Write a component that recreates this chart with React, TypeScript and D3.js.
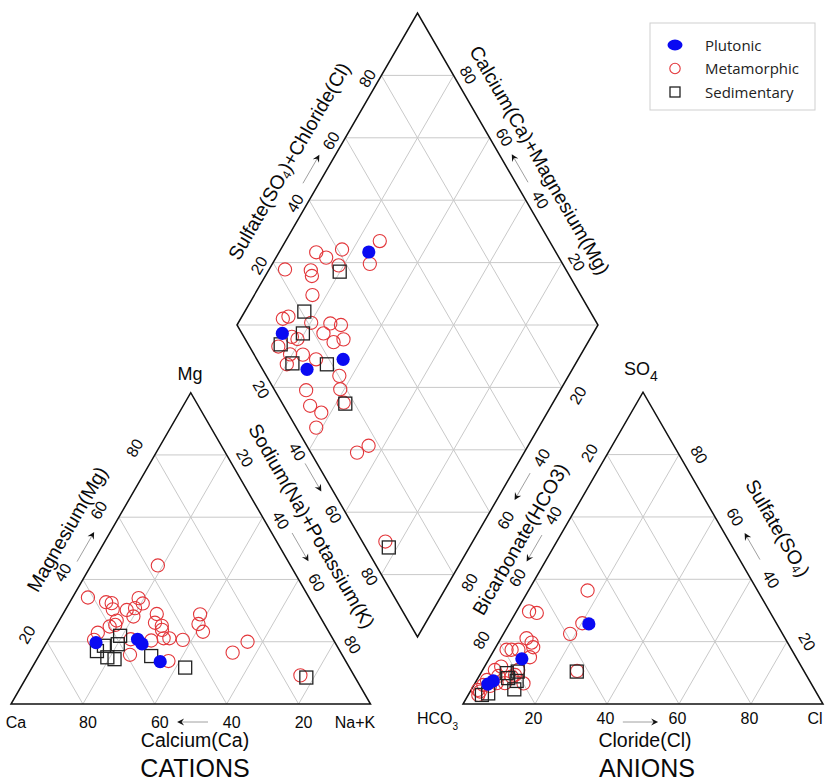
import React from "react";
import * as d3 from "d3";

const TICKS = [20, 40, 60, 80];

// Cation triangle samples: [Ca, Mg, Na+K] (%)
const cationPlutonic = [
  [66.5, 19.7, 13.8], [54.4, 20.8, 24.8], [53.9, 19.3, 26.8], [51.7, 13.6, 34.7],
];
const cationMetamorphic = [
  [36.9, 44.5, 18.6], [61.5, 34.2, 4.3], [57.2, 32.7, 10.1], [55.8, 32.4, 11.8], [56.5, 30.4, 13.1],
  [47.5, 34.0, 18.5], [47.2, 32.3, 20.5], [50.1, 30.8, 19.1], [52.7, 30.2, 17.1], [51.9, 28.1, 20.0],
  [45.0, 28.9, 26.1], [46.9, 26.1, 27.0], [45.5, 25.1, 29.4], [46.1, 23.8, 30.1], [57.2, 26.8, 16.0],
  [58.3, 25.4, 16.3], [60.1, 24.9, 15.0], [64.4, 22.9, 12.7], [33.0, 28.8, 38.2], [35.0, 25.7, 39.3],
  [35.0, 23.2, 41.8], [56.3, 20.8, 22.9], [50.8, 20.4, 28.8], [47.0, 21.1, 31.9], [45.4, 21.1, 33.5],
  [41.9, 20.6, 37.5], [59.0, 15.8, 25.2], [49.3, 13.8, 36.9], [24.2, 20.0, 55.8], [30.1, 16.5, 53.4],
  [14.9, 9.2, 75.9], [66.6, 20.6, 12.8],
];
const cationSedimentary = [
  [58.7, 21.9, 19.4], [60.7, 19.2, 20.1], [64.8, 18.7, 16.5], [67.6, 17.0, 15.4], [65.7, 15.0, 19.3],
  [64.0, 14.4, 21.6], [53.3, 15.4, 31.3], [45.7, 11.7, 42.6], [13.6, 8.5, 77.9],
];

// Anion triangle samples: [HCO3, SO4, Cl] (%)
const anionPlutonic = [
  [52.2, 25.7, 22.1], [76.4, 14.5, 9.1], [87.9, 7.4, 4.7], [89.9, 6.4, 3.7],
];
const anionMetamorphic = [
  [47.2, 36.4, 16.4], [66.8, 29.7, 3.5], [64.9, 29.2, 5.9], [53.9, 25.9, 20.2], [59.0, 22.5, 18.5],
  [71.8, 21.1, 7.1], [71.1, 19.7, 9.2], [71.4, 18.2, 10.4], [79.2, 17.4, 3.4], [77.8, 17.4, 4.8],
  [75.9, 17.4, 6.7], [73.9, 15.0, 11.1], [83.4, 12.0, 4.6], [85.7, 10.9, 3.4], [85.7, 9.0, 5.3],
  [79.2, 10.9, 9.9], [82.1, 8.8, 9.1], [91.3, 6.1, 2.6], [93.3, 4.0, 2.7], [85.0, 6.7, 8.3],
  [87.3, 6.7, 6.0], [94.3, 2.9, 2.8], [63.0, 10.6, 26.4], [79.9, 6.6, 13.5], [80.9, 9.3, 9.8],
  [93.6, 4.5, 1.9], [89.5, 7.7, 2.8], [89.6, 5.8, 4.6],
];
const anionSedimentary = [
  [63.2, 10.4, 26.4], [82.9, 9.9, 7.2], [79.6, 10.4, 10.0], [83.3, 8.3, 8.4], [81.4, 7.4, 11.2],
  [83.4, 4.7, 11.9], [91.3, 3.4, 5.3], [93.3, 2.9, 3.8],
];

// Diamond samples: [Na+K, SO4+Cl] (%)
const diamondPlutonic = [[24.8, 48.2], [13.9, 11.2], [26.5, 12.3], [34.9, 23.9]];
const diamondMetamorphic = [
  [26.1, 53.0], [17.0, 41.2], [10.3, 33.6], [13.9, 35.5], [18.6, 37.7], [27.0, 46.6], [4.4, 22.2],
  [11.7, 29.2], [12.9, 28.6], [16.1, 25.7], [11.7, 13.7], [12.9, 15.6], [20.2, 20.9], [25.6, 26.1],
  [28.8, 28.8], [25.3, 22.6], [29.5, 24.0], [31.8, 27.2], [17.1, 13.3], [19.0, 14.5], [14.9, 8.0],
  [19.4, 10.0], [23.0, 13.5], [20.1, 7.5], [27.4, 16.4], [36.5, 20.2], [38.9, 18.3], [29.6, 8.7],
  [33.2, 7.3], [37.4, 9.3], [38.4, 5.5], [42.0, 17.1], [53.7, 12.8], [55.8, 17.1], [75.8, 6.4],
];
const diamondSedimentary = [
  [19.9, 37.0], [16.5, 20.8], [19.6, 16.9], [15.2, 9.0], [21.5, 9.2], [31.2, 18.6], [42.6, 17.4], [77.7, 6.4],
];

const legendLabels = ["Plutonic", "Metamorphic", "Sedimentary"];

const S60 = Math.sqrt(3) / 2;
const RED = "#e3373b";
const BLUE = "#0a0af2";
const GRID = "#c9c9c9";
const FONT = "Liberation Sans, Arial, sans-serif";

// geometry
const cat = { x0: 11, y0: 704, side: 359.5 };
const an = { x0: 463, y0: 704, side: 360 };
const dia = { cx: 417.5, cy: 325, hw: 180.5, hh: 312 };

const catScale = d3.scaleLinear().domain([0, 100]).range([0, cat.side]);
const anScale = d3.scaleLinear().domain([0, 100]).range([0, an.side]);
const diaX = d3.scaleLinear().domain([0, 200]).range([dia.cx - dia.hw, dia.cx + dia.hw]);
const diaY = d3.scaleLinear().domain([-100, 100]).range([dia.cy - dia.hh, dia.cy + dia.hh]);

type P = [number, number];
const catPt = (mg: number, nak: number): P => [cat.x0 + catScale(nak + mg / 2), cat.y0 - catScale(mg) * S60];
const anPt = (so4: number, cl: number): P => [an.x0 + anScale(cl + so4 / 2), an.y0 - anScale(so4) * S60];
const diaPt = (nak: number, s: number): P => [diaX(nak + s), diaY(nak - s)];

const NUL: P = [-S60, -0.5];
const NUR: P = [S60, -0.5];
const NLL: P = [-S60, 0.5];
const NLR: P = [S60, 0.5];

function Arrow({ p1, p2, n = [0, 0], d = 0 }: { p1: P; p2: P; n?: P; d?: number }) {
  const a: P = [p1[0] + n[0] * d, p1[1] + n[1] * d];
  const b: P = [p2[0] + n[0] * d, p2[1] + n[1] * d];
  const len = Math.hypot(b[0] - a[0], b[1] - a[1]);
  const ux = (b[0] - a[0]) / len, uy = (b[1] - a[1]) / len;
  const px = -uy, py = ux;
  const hl = 7, hw = 3.6;
  const pts = [
    [b[0], b[1]],
    [b[0] - hl * ux + hw * px, b[1] - hl * uy + hw * py],
    [b[0] - 4.5 * ux, b[1] - 4.5 * uy],
    [b[0] - hl * ux - hw * px, b[1] - hl * uy - hw * py],
  ].map((q) => q.join(",")).join(" ");
  return (
    <g>
      <line x1={a[0]} y1={a[1]} x2={b[0] - 4 * ux} y2={b[1] - 4 * uy} stroke="#a0a0a0" strokeWidth={1} />
      <polygon points={pts} fill="#111" />
    </g>
  );
}

function RotText({ x, y, rot, size = 16, children }: any) {
  return (
    <text transform={`translate(${x},${y}) rotate(${rot})`} textAnchor="middle" dominantBaseline="central" fontSize={size} fill="#0a0a0a">
      {children}
    </text>
  );
}

function Markers({ pts, kind }: { pts: P[]; kind: string }) {
  if (kind === "met")
    return <g>{pts.map((p, i) => <circle key={i} cx={p[0]} cy={p[1]} r={6.6} fill="none" stroke={RED} strokeWidth={1.1} />)}</g>;
  if (kind === "sed")
    return <g>{pts.map((p, i) => <rect key={i} x={p[0] - 6.5} y={p[1] - 6.5} width={13} height={13} fill="none" stroke="#222" strokeWidth={1.3} />)}</g>;
  return <g>{pts.map((p, i) => <circle key={i} cx={p[0]} cy={p[1]} r={6.6} fill={BLUE} />)}</g>;
}

export default function App() {
  const lines: [P, P][] = [];
  TICKS.forEach((v) => {
    lines.push([catPt(v, 0), catPt(v, 100 - v)]);
    lines.push([catPt(0, v), catPt(100 - v, v)]);
    lines.push([catPt(0, 100 - v), catPt(100 - v, 0)]);
    lines.push([anPt(v, 0), anPt(v, 100 - v)]);
    lines.push([anPt(0, v), anPt(100 - v, v)]);
    lines.push([anPt(0, 100 - v), anPt(100 - v, 0)]);
    lines.push([diaPt(v, 0), diaPt(v, 100)]);
    lines.push([diaPt(0, v), diaPt(100, v)]);
    lines.push([diaPt(0, v), diaPt(100 - v, 100)]);
    lines.push([diaPt(v, 0), diaPt(100, 100 - v)]);
  });
  lines.push([diaPt(0, 0), diaPt(100, 100)]);

  const catTri = [catPt(0, 0), catPt(0, 100), catPt(100, 0)];
  const anTri = [anPt(0, 0), anPt(0, 100), anPt(100, 0)];
  const diaPoly = [diaPt(0, 0), diaPt(0, 100), diaPt(100, 100), diaPt(100, 0)];
  const poly = (ps: P[]) => ps.map((p) => p.join(",")).join(" ");

  const cM = cationMetamorphic.map((d) => catPt(d[1], d[2]));
  const cS = cationSedimentary.map((d) => catPt(d[1], d[2]));
  const cP = cationPlutonic.map((d) => catPt(d[1], d[2]));
  const aM = anionMetamorphic.map((d) => anPt(d[1], d[2]));
  const aS = anionSedimentary.map((d) => anPt(d[1], d[2]));
  const aP = anionPlutonic.map((d) => anPt(d[1], d[2]));
  const dM = diamondMetamorphic.map((d) => diaPt(d[0], d[1]));
  const dS = diamondSedimentary.map((d) => diaPt(d[0], d[1]));
  const dP = diamondPlutonic.map((d) => diaPt(d[0], d[1]));

  const labels: any[] = [];
  TICKS.forEach((v) => {
    const cb = catPt(0, 100 - v);
    labels.push(<RotText key={`cb${v}`} x={cb[0] + 5} y={722} rot={0}>{v}</RotText>);
    const cl = catPt(v, 0);
    labels.push(<RotText key={`cl${v}`} x={cl[0] - 20} y={cl[1] - 7} rot={-60}>{v}</RotText>);
    const cr = catPt(100 - v, v);
    labels.push(<RotText key={`cr${v}`} x={cr[0] + 18} y={cr[1] + 3} rot={60}>{v}</RotText>);
    const ab = anPt(0, v);
    labels.push(<RotText key={`ab${v}`} x={ab[0] - 1.5} y={718} rot={0}>{v}</RotText>);
    const al = anPt(100 - v, 0);
    labels.push(<RotText key={`al${v}`} x={al[0] - 17.5} y={al[1] - 1.5} rot={-60}>{v}</RotText>);
    const ar = anPt(v, 100 - v);
    labels.push(<RotText key={`ar${v}`} x={ar[0] + 20} y={ar[1]} rot={60}>{v}</RotText>);
    const ul = diaPt(0, v);
    labels.push(<RotText key={`ul${v}`} x={ul[0] - 14} y={ul[1] + 3} rot={-60}>{v}</RotText>);
    const ur = diaPt(100 - v, 100);
    labels.push(<RotText key={`ur${v}`} x={ur[0] + 14.5} y={ur[1] - 0.5} rot={60}>{v}</RotText>);
    const ll = diaPt(v, 0);
    labels.push(<RotText key={`ll${v}`} x={ll[0] - 12} y={ll[1] + 2} rot={60}>{v}</RotText>);
    const lr = diaPt(100, 100 - v);
    labels.push(<RotText key={`lr${v}`} x={lr[0] + 16} y={lr[1] + 8} rot={-60}>{v}</RotText>);
  });

  const legendY = [45, 68.5, 92];

  return (
    <svg width={827} height={784} style={{ position: "absolute", left: 0, top: 0, background: "#fff" }} fontFamily={FONT}>
      <rect x={0} y={0} width={827} height={784} fill="#fff" />
      <g>
        {lines.map((l, i) => (
          <line key={i} x1={l[0][0]} y1={l[0][1]} x2={l[1][0]} y2={l[1][1]} stroke={GRID} strokeWidth={1} />
        ))}
      </g>
      <polygon points={poly(catTri)} fill="none" stroke="#111" strokeWidth={1.5} />
      <polygon points={poly(anTri)} fill="none" stroke="#111" strokeWidth={1.5} />
      <polygon points={poly(diaPoly)} fill="none" stroke="#111" strokeWidth={1.5} />

      <Markers pts={cM} kind="met" />
      <Markers pts={cS} kind="sed" />
      <Markers pts={cP} kind="plu" />
      <Markers pts={aM} kind="met" />
      <Markers pts={aS} kind="sed" />
      <Markers pts={aP} kind="plu" />
      <Markers pts={dM} kind="met" />
      <Markers pts={dS} kind="sed" />
      <Markers pts={dP} kind="plu" />

      {labels}

      <RotText x={16} y={722} rot={0}>Ca</RotText>
      <RotText x={355} y={722} rot={0}>Na+K</RotText>
      <text x={190} y={380} textAnchor="middle" fontSize={18} fill="#0a0a0a">Mg</text>
      <text x={624} y={375} fontSize={18} fill="#0a0a0a">SO<tspan dy={6} fontSize={14}>4</tspan></text>
      <text x={417} y={724} fontSize={16} fill="#0a0a0a">HCO<tspan dy={6} fontSize={10}>3</tspan></text>
      <RotText x={815} y={718} rot={0}>Cl</RotText>

      <RotText x={195} y={740} rot={0} size={19.5}>Calcium(Ca)</RotText>
      <RotText x={645} y={740} rot={0} size={19.5}>Cloride(Cl)</RotText>
      <RotText x={67} y={529} rot={-60} size={19.5}>Magnesium(Mg)</RotText>
      <RotText x={312} y={526} rot={60} size={19.5}>Sodium(Na)+Potassium(K)</RotText>
      <RotText x={289} y={161} rot={-60} size={19.5}>
        Sulfate(SO<tspan dy={5} fontSize={12}>4</tspan><tspan dy={-5}>)+Chloride(Cl)</tspan>
      </RotText>
      <RotText x={540} y={160} rot={60} size={19.5}>Calcium(Ca)+Magnesium(Mg)</RotText>
      <RotText x={520} y={539} rot={-60} size={19.5}>Bicarbonate(HCO3)</RotText>
      <RotText x={778} y={528} rot={60} size={19.5}>
        Sulfate(SO<tspan dy={5} fontSize={12}>4</tspan><tspan dy={-5}>)</tspan>
      </RotText>

      <text x={195} y={777} textAnchor="middle" fontSize={25} fill="#0a0a0a">CATIONS</text>
      <text x={647} y={777} textAnchor="middle" fontSize={25} fill="#0a0a0a">ANIONS</text>

      <Arrow p1={catPt(43.5, 0)} p2={catPt(53, 0)} n={NUL} d={14} />
      <Arrow p1={[catPt(0, 54.8)[0], 722]} p2={[catPt(0, 46.2)[0], 722]} />
      <Arrow p1={catPt(52.1, 47.9)} p2={catPt(43, 57)} n={NUR} d={17.6} />
      <Arrow p1={diaPt(42.7, 0)} p2={diaPt(51.7, 0)} n={NLL} d={10.4} />
      <Arrow p1={diaPt(0, 43.2)} p2={diaPt(0, 52.3)} n={NUL} d={13.9} />
      <Arrow p1={diaPt(56, 100)} p2={diaPt(47, 100)} n={NUR} d={10.9} />
      <Arrow p1={diaPt(100, 55)} p2={diaPt(100, 46.4)} n={NLR} d={15.4} />
      <Arrow p1={anPt(51.6, 0)} p2={anPt(43.1, 0)} n={NUL} d={16.1} />
      <Arrow p1={[anPt(0, 44.4)[0], 722]} p2={[anPt(0, 54.2)[0], 722]} />
      <Arrow p1={anPt(43.5, 56.5)} p2={anPt(52, 48)} n={NUR} d={17.6} />

      <g fontFamily="Open Sans, Noto Sans, sans-serif">
        <rect x={650} y={23} width={165} height={87} fill="#fff" stroke="#cfcfcf" strokeWidth={1} />
        <ellipse cx={675} cy={legendY[0]} rx={7.5} ry={5.4} fill={BLUE} />
        <circle cx={675} cy={legendY[1]} r={5.2} fill="none" stroke={RED} strokeWidth={1.1} />
        <rect x={670} y={legendY[2] - 5} width={10} height={10} fill="none" stroke="#222" strokeWidth={1.3} />
        {legendLabels.map((t, i) => (
          <text key={t} x={705} y={legendY[i] + 5.5} fontSize={15} fill="#222">{t}</text>
        ))}
      </g>
    </svg>
  );
}
